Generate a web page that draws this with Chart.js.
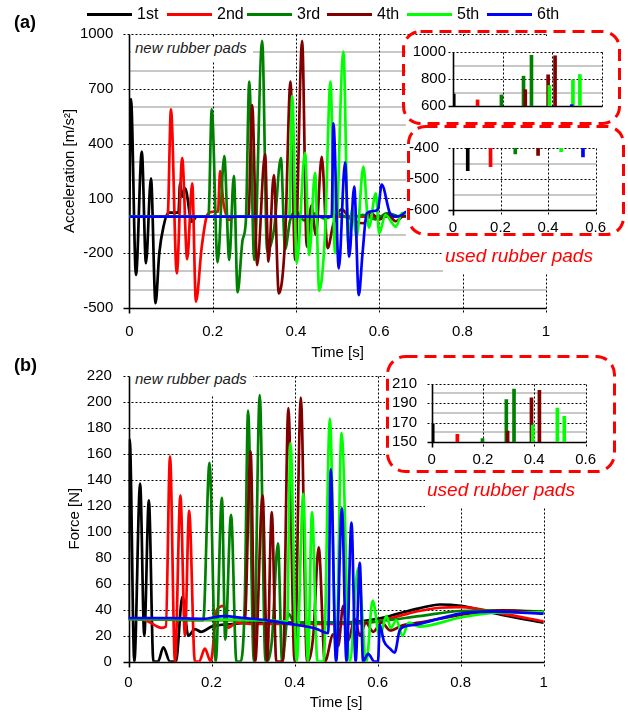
<!DOCTYPE html>
<html>
<head>
<meta charset="utf-8">
<script src="https://cdn.jsdelivr.net/npm/chart.js@4.4.1/dist/chart.umd.min.js"></script>
<style>
html, body { margin: 0; padding: 0; background: #fff; }
#page { position: relative; width: 628px; height: 713px; overflow: hidden;
        font-family: "Liberation Sans", Arial, Helvetica, sans-serif; color: #000; }
#page canvas { position: absolute; }
.white { position: absolute; background: #fff; }
.panel { position: absolute; font-weight: bold; font-size: 18px; line-height: 24px; }
.note { position: absolute; font-style: italic; font-size: 15px; background: #fff; white-space: nowrap; color: #1a1a1a; }
.used { position: absolute; font-style: italic; font-size: 19px; line-height: 24px; color: #ff0000; white-space: nowrap; }
#legend { position: absolute; left: 87px; top: 4px; display: flex; }
#legend .item { width: 80px; height: 20px; display: flex; align-items: center; font-size: 16px; }
#legend .line { display: inline-block; width: 45px; height: 3px; margin-right: 5px; }
#boxes { position: absolute; left: 0; top: 0; }
</style>
</head>
<body>
<div id="page">
  <canvas id="accMain" width="628" height="364" style="left:0;top:0"></canvas>
  <canvas id="forMain" width="628" height="363" style="left:0;top:350px"></canvas>

  <div class="white" style="left:406px;top:36px;width:222px;height:201px"></div>
  <div class="white" style="left:443px;top:237px;width:185px;height:36px"></div>
  <div class="white" style="left:385px;top:355px;width:243px;height:120px"></div>
  <div class="white" style="left:425px;top:475px;width:203px;height:33px"></div>

  <canvas id="accUsedHigh" width="215" height="86" style="left:400px;top:36px"></canvas>
  <canvas id="accUsedLow" width="215" height="115" style="left:400px;top:125px"></canvas>
  <canvas id="forUsed" width="225" height="110" style="left:380px;top:360px"></canvas>

  <svg id="boxes" width="628" height="713">
    <g fill="none" stroke="#ff0000" stroke-width="3" stroke-dasharray="12 7">
      <rect x="403.5" y="31.5" width="216" height="92" rx="17"/>
      <rect x="408.5" y="126.5" width="215" height="108" rx="17"/>
      <rect x="387.5" y="356.5" width="227" height="115" rx="18"/>
    </g>
  </svg>

  <div class="note" style="left:131px;top:37px;height:25px;line-height:22px;padding:0 6px 0 4px">new rubber pads</div>
  <div class="note" style="left:131px;top:367px;height:28px;line-height:24px;padding:0 6px 0 4px">new rubber pads</div>
  <div class="used" style="left:445px;top:244px">used rubber pads</div>
  <div class="used" style="left:427px;top:478px">used rubber pads</div>

  <div class="panel" style="left:14px;top:10px">(a)</div>
  <div class="panel" style="left:14px;top:353px">(b)</div>
  <div id="legend"></div>
</div>

<script>
// ---- impacts ----
const seriesNames  = ['1st', '2nd', '3rd', '4th', '5th', '6th'];
const seriesColors = ['#000000', '#ff0000', '#008000', '#800000', '#00ff00', '#0000ff'];

// ---- acceleration [m/s2] vs time [s], new rubber pads ----
const accTime1  = [0, 0.004, 0.016, 0.030, 0.040, 0.052, 0.063, 0.072, 0.082, 0.094, 0.118, 0.122, 0.127, 0.134, 0.150, 0.162, 0.700];
const accValue1 = [0, 644, -319, 356, -255, 210, -474, -199, -55, 22, 22, 183, 109, 155, -27, 0, 0];

const accTime2  = [0, 0.092, 0.100, 0.114, 0.127, 0.139, 0.151, 0.160, 0.174, 0.187, 0.200, 0.213, 0.218, 0.226, 0.240, 0.252, 0.700];
const accValue2 = [0, 0, 588, -310, 320, -233, 183, -465, -164, 9, 27, 27, 250, 77, -18, 0, 0];

const accTime3  = [0, 0.190, 0.198, 0.212, 0.228, 0.240, 0.251, 0.260, 0.272, 0.280, 0.288, 0.300, 0.319, 0.331, 0.348, 0.364, 0.374, 0.386, 0.400, 0.420, 0.440, 0.470, 0.500, 0.530, 0.560, 0.590, 0.620, 0.650, 0.700];
const accValue3 = [0, 0, 588, -250, 332, -237, 223, -414, -128, -18, 739, -237, 963, -190, -60, 320, -178, -20, 30, -20, 20, -10, 15, -10, 10, -15, 20, 0, 0];

const accTime4  = [0, 0.286, 0.295, 0.307, 0.326, 0.334, 0.347, 0.359, 0.374, 0.387, 0.398, 0.415, 0.426, 0.437, 0.448, 0.462, 0.476, 0.490, 0.510, 0.530, 0.562, 0.580, 0.600, 0.620, 0.640, 0.660, 0.700];
const accValue4 = [0, 0, 611, -265, 343, -246, 228, -420, -128, 739, -237, 962, -164, 60, -100, 328, -173, -40, 40, -10, -36, 20, -15, 10, -25, 5, 0];

const accTime5  = [0, 0.384, 0.391, 0.402, 0.422, 0.432, 0.446, 0.456, 0.470, 0.483, 0.494, 0.514, 0.526, 0.535, 0.546, 0.562, 0.575, 0.592, 0.600, 0.615, 0.640, 0.655, 0.700];
const accValue5 = [0, 0, 661, -255, 350, -210, 240, -405, -91, 739, -200, 903, -150, 40, -110, 274, -60, 128, -91, 10, -55, 20, -10];

const accTime6  = [0, 0.486, 0.490, 0.503, 0.518, 0.528, 0.540, 0.551, 0.560, 0.570, 0.585, 0.597, 0.606, 0.626, 0.640, 0.655, 0.665, 0.700];
const accValue6 = [0, 0, 511, -283, 296, -219, 164, -429, -200, 18, 30, 40, 176, 18, 0, 10, 27, 0];

// ---- force [N] vs time [s], new rubber pads ----
const forTime1  = [0, 0.003, 0.014, 0.028, 0.038, 0.049, 0.060, 0.071, 0.084, 0.100, 0.114, 0.130, 0.144, 0.160, 0.175, 0.200, 0.250, 0.300, 0.400, 0.500, 0.600, 0.650, 0.700, 0.750, 0.800, 0.900, 1.000];
const forValue1 = [33, 171, 0, 137, 20, 124, 0, 0, 11, 0, 0, 50, 20, 25, 23, 27, 29, 30, 30, 30, 33, 37, 41, 44, 43, 36, 30];

const forTime2  = [0, 0.040, 0.080, 0.090, 0.100, 0.112, 0.125, 0.136, 0.146, 0.160, 0.170, 0.184, 0.198, 0.213, 0.230, 0.240, 0.260, 0.300, 0.400, 0.500, 0.600, 0.650, 0.700, 0.750, 0.800, 0.900, 1.000];
const forValue2 = [33, 32, 26, 27, 158, 0, 128, 20, 116, 0, 0, 10, 0, 40, 43, 26, 30, 29, 29, 29, 31, 35, 39, 41.5, 42, 37, 31];

const forTime3  = [0, 0.180, 0.195, 0.210, 0.225, 0.233, 0.247, 0.260, 0.270, 0.280, 0.288, 0.302, 0.316, 0.330, 0.345, 0.360, 0.370, 0.385, 0.400, 0.450, 0.500, 0.550, 0.600, 0.700, 0.800, 0.900, 1.000];
const forValue3 = [33, 32, 153, 0, 126, 17, 113, 0, 0, 46, 193, 0, 205, 0, 15, 91, 0, 37, 30, 30, 30, 30, 31, 35, 39, 39.5, 38.5];

const forTime4  = [0, 0.280, 0.294, 0.305, 0.323, 0.334, 0.345, 0.356, 0.372, 0.385, 0.400, 0.415, 0.430, 0.445, 0.458, 0.473, 0.493, 0.505, 0.517, 0.529, 0.545, 0.557, 0.572, 0.589, 0.610, 0.630, 0.660, 0.700, 0.800, 0.900, 1.000];
const forValue4 = [33, 32, 162, 0, 128, 0, 115, 0, 0, 195, 0, 203, 0, 20, 88, 0, 21, 12, 43, 16, 33, 20, 30, 23, 30, 24, 28, 30, 36, 39.5, 38];

const forTime5  = [0, 0.300, 0.382, 0.390, 0.405, 0.421, 0.432, 0.442, 0.455, 0.470, 0.485, 0.500, 0.513, 0.533, 0.553, 0.573, 0.588, 0.605, 0.621, 0.632, 0.645, 0.660, 0.675, 0.700, 0.800, 0.900, 1.000];
const forValue5 = [33, 32, 31, 168, 0, 129, 0, 115, 0, 0, 187, 0, 176, 0, 72, 0, 47, 19, 35, 26, 32, 20, 30, 27, 34, 38, 38];

const forTime6  = [0, 0.100, 0.180, 0.230, 0.280, 0.330, 0.400, 0.450, 0.481, 0.487, 0.500, 0.514, 0.525, 0.537, 0.547, 0.557, 0.565, 0.577, 0.593, 0.601, 0.605, 0.615, 0.630, 0.641, 0.653, 0.665, 0.693, 0.800, 0.880, 1.000];
const forValue6 = [33.5, 33.5, 33, 35, 33.5, 32, 28.5, 25.5, 22, 148, 0, 118, 0, 107, 0, 76, 0, 6, 0, 0, 28.5, 16, 10, 7, 24, 27, 28.5, 37, 38.5, 37];

// ---- used rubber pads: peak spikes (series index, time [s], value) ----
const usedPeakSeries = [0, 1, 2, 2, 2, 3, 3, 3, 4, 4, 4, 5];
const usedPeakTime   = [0.003, 0.099, 0.195, 0.284, 0.316, 0.291, 0.383, 0.411, 0.388, 0.483, 0.511, 0.478];
const usedPeakAcc    = [688, 645, 682, 821, 976, 721, 831, 972, 753, 794, 833, 610];

const usedTroughSeries = [0, 1, 2, 3, 4, 5];
const usedTroughTime   = [0.062, 0.158, 0.262, 0.358, 0.455, 0.547];
const usedTroughAcc    = [-473, -460, -419, -424, -412, -429];

const usedForceSeries = [0, 1, 2, 2, 2, 3, 3, 3, 4, 4, 4];
const usedForceTime   = [0.004, 0.100, 0.198, 0.291, 0.321, 0.296, 0.389, 0.420, 0.394, 0.490, 0.517];
const usedForcePeak   = [168.7, 158, 153.5, 193.6, 204.5, 161.3, 195.5, 203.2, 167.3, 185, 176.3];

// ---- axis ticks ----
const timeTicks       = [0, 0.2, 0.4, 0.6, 0.8, 1];
const accTicks        = [-500, -200, 100, 400, 700, 1000];
const accMinorLines   = [-400, -300, -100, 0, 200, 300, 500, 600, 800, 900];
const forceTicks      = [0, 20, 40, 60, 80, 100, 120, 140, 160, 180, 200, 220];
const insetTimeTicks  = [0, 0.2, 0.4, 0.6];
const usedPeakTicks   = [600, 800, 1000];
const usedPeakMinor   = [700, 900];
const usedTroughTicks = [-600, -500, -400];
const usedTroughMinor = [-550, -450];
const usedForceTicks  = [150, 170, 190, 210];
const usedForceMinor  = [160, 180, 200];

const accTimes  = [accTime1, accTime2, accTime3, accTime4, accTime5, accTime6];
const accValues = [accValue1, accValue2, accValue3, accValue4, accValue5, accValue6];
const forTimes  = [forTime1, forTime2, forTime3, forTime4, forTime5, forTime6];
const forValues = [forValue1, forValue2, forValue3, forValue4, forValue5, forValue6];

// ---- legend ----
const legendEl = document.getElementById('legend');
seriesNames.forEach((name, i) => {
  const item = document.createElement('div');
  item.className = 'item';
  const ln = document.createElement('span');
  ln.className = 'line';
  ln.style.background = seriesColors[i];
  item.appendChild(ln);
  item.appendChild(document.createTextNode(name));
  legendEl.appendChild(item);
});

// ---- chart helpers ----
Chart.defaults.font.family = '"Liberation Sans", Arial, Helvetica, sans-serif';
Chart.defaults.font.size = 15;
Chart.defaults.color = '#000';

const fmt = v => String(Math.round(v * 100) / 100);

// grid, frame and tick marks drawn from the scales
const framePlugin = {
  id: 'frame',
  beforeDatasetsDraw(chart, args, o) {
    const {ctx, chartArea: a, scales: {x, y}} = chart;
    const L = Math.round(a.left) + 0.5, R = Math.round(a.right) + 0.5;
    const T = Math.round(a.top) + 0.5, B = Math.round(a.bottom) + 0.5;
    const px = v => Math.round(x.getPixelForValue(v)) + 0.5;
    const py = v => Math.round(y.getPixelForValue(v)) + 0.5;
    const seg = (x1, y1, x2, y2) => { ctx.beginPath(); ctx.moveTo(x1, y1); ctx.lineTo(x2, y2); ctx.stroke(); };
    ctx.save();
    ctx.setLineDash([]);
    ctx.strokeStyle = '#c8c8c8';
    ctx.lineWidth = 2;
    (o.yMinor || []).forEach(v => { const p = Math.round(y.getPixelForValue(v)); seg(L, p, R, p); });
    ctx.strokeStyle = '#000';
    ctx.lineWidth = 1;
    ctx.setLineDash([2, 2]);
    (o.yMajor || []).forEach(v => seg(L - o.tickY, py(v), R, py(v)));
    (o.xMajor || []).forEach(v => seg(px(v), T, px(v), B + o.tickX));
    seg(L - o.tickY, T, R, T);
    seg(R, T, R, B + o.tickX);
    ctx.setLineDash([]);
    ctx.lineWidth = 1.6;
    seg(L, T, L, B + o.tickX);
    seg(L - o.tickY, B, R, B);
    ctx.restore();
  }
};

function scaleX(c) {
  const s = {
    type: 'linear', min: c.min, max: c.max, offset: false, display: c.show !== false,
    afterBuildTicks: sc => { sc.ticks = c.ticks.map(v => ({value: v})); },
    grid: {display: false, drawTicks: false},
    border: {display: false},
    ticks: {padding: c.pad, autoSkip: false, maxRotation: 0, color: '#000', font: {size: 15}, callback: fmt},
    title: c.title ? {display: true, text: c.title, color: '#000', font: {size: 15}, padding: {top: 0, bottom: c.titlePad}} : {display: false}
  };
  if (c.show !== false) s.afterFit = sc => { sc.height = c.height; };
  return s;
}

function scaleY(c) {
  return {
    type: 'linear', min: c.min, max: c.max,
    afterBuildTicks: sc => { sc.ticks = c.ticks.map(v => ({value: v})); },
    afterFit: sc => { sc.width = c.width; },
    grid: {display: false, drawTicks: false},
    border: {display: false},
    ticks: {padding: c.pad, autoSkip: false, color: '#000', font: {size: 15}, callback: fmt},
    title: c.title ? {display: true, text: c.title, color: '#000', font: {size: 15}, padding: {top: c.titlePad, bottom: 0}} : {display: false}
  };
}

function baseOptions(padding, x, y, frame) {
  return {
    responsive: false, animation: false, devicePixelRatio: 1,
    layout: {padding},
    plugins: {legend: {display: false}, tooltip: {enabled: false}, frame},
    scales: {x: scaleX(x), y: scaleY(y)}
  };
}

function traceSets(times, values) {
  return times.map((t, i) => ({
    label: seriesNames[i],
    data: t.map((tv, k) => ({x: tv, y: values[i][k]})),
    borderColor: seriesColors[i],
    backgroundColor: seriesColors[i],
    borderWidth: 2.7,
    pointRadius: 0,
    fill: false,
    cubicInterpolationMode: 'monotone',
    order: times.length - 1 - i
  }));
}

function spikeSets(seriesIdx, times, values, from) {
  return seriesNames.map((name, i) => ({
    label: name,
    data: times.map((t, k) => (seriesIdx[k] === i ? {x: t, y: [from, values[k]]} : null)).filter(Boolean),
    backgroundColor: seriesColors[i],
    borderWidth: 0,
    barThickness: 3,
    grouped: false,
    order: seriesNames.length - 1 - i
  })).filter(d => d.data.length);
}

// (a) acceleration, new rubber pads
new Chart(document.getElementById('accMain'), {
  type: 'line',
  data: {datasets: traceSets(accTimes, accValues)},
  options: baseOptions(
    {left: 0, top: 34, right: 82.2, bottom: 0},
    {min: 0, max: 1, ticks: timeTicks, height: 56, pad: 14.7, title: 'Time [s]', titlePad: 2},
    {min: -500, max: 1000, ticks: accTicks, width: 129.3, pad: 16, title: 'Acceleration [m/s²]', titlePad: 61},
    {xMajor: [0.2, 0.4, 0.6, 0.8], yMajor: [-200, 100, 400, 700], yMinor: accMinorLines, tickX: 5, tickY: 6}
  ),
  plugins: [framePlugin]
});

// (b) force, new rubber pads
new Chart(document.getElementById('forMain'), {
  type: 'line',
  data: {datasets: traceSets(forTimes, forValues)},
  options: baseOptions(
    {left: 0, top: 15.7, right: 84.3, bottom: 0},
    {min: 0, max: 1, ticks: timeTicks, height: 51.3, pad: 12.3, title: 'Time [s]', titlePad: 1},
    {min: 0, max: 220, ticks: forceTicks, width: 128.5, pad: 16.6, title: 'Force [N]', titlePad: 66},
    {xMajor: [0.2, 0.4, 0.6, 0.8], yMajor: forceTicks.slice(1, -1), yMinor: [], tickX: 5, tickY: 6}
  ),
  plugins: [framePlugin]
});

// (a) used rubber pads: positive peaks
new Chart(document.getElementById('accUsedHigh'), {
  type: 'bar',
  data: {datasets: spikeSets(usedPeakSeries, usedPeakTime, usedPeakAcc, 600)},
  options: baseOptions(
    {left: 0, top: 8, right: 13, bottom: 6.3},
    {min: 0, max: 0.6, ticks: insetTimeTicks, show: false},
    {min: 600, max: 1000, ticks: usedPeakTicks, width: 53, pad: 7},
    {xMajor: [0.2, 0.4], yMajor: [800], yMinor: usedPeakMinor, tickX: 0, tickY: 5}
  ),
  plugins: [framePlugin]
});

// (a) used rubber pads: negative peaks
new Chart(document.getElementById('accUsedLow'), {
  type: 'bar',
  data: {datasets: spikeSets(usedTroughSeries, usedTroughTime, usedTroughAcc, -400)},
  options: baseOptions(
    {left: 0, top: 15, right: 12, bottom: 0},
    {min: 0, max: 0.6, ticks: insetTimeTicks, height: 30, pad: 9},
    {min: -600, max: -400, ticks: usedTroughTicks, width: 53, pad: 14},
    {xMajor: [0.2, 0.4], yMajor: [-500], yMinor: usedTroughMinor, tickX: 5, tickY: 5}
  ),
  plugins: [framePlugin]
});

// (b) used rubber pads: force peaks
new Chart(document.getElementById('forUsed'), {
  type: 'bar',
  data: {datasets: spikeSets(usedForceSeries, usedForceTime, usedForcePeak, 150)},
  options: baseOptions(
    {left: 0, top: 9, right: 12, bottom: 0},
    {min: 0, max: 0.6, ticks: insetTimeTicks, height: 28, pad: 9},
    {min: 150, max: 210, ticks: usedForceTicks, width: 51.7, pad: 14.7},
    {xMajor: [0.2, 0.4], yMajor: [170, 190], yMinor: usedForceMinor, tickX: 5, tickY: 5}
  ),
  plugins: [framePlugin]
});
</script>
</body>
</html>
